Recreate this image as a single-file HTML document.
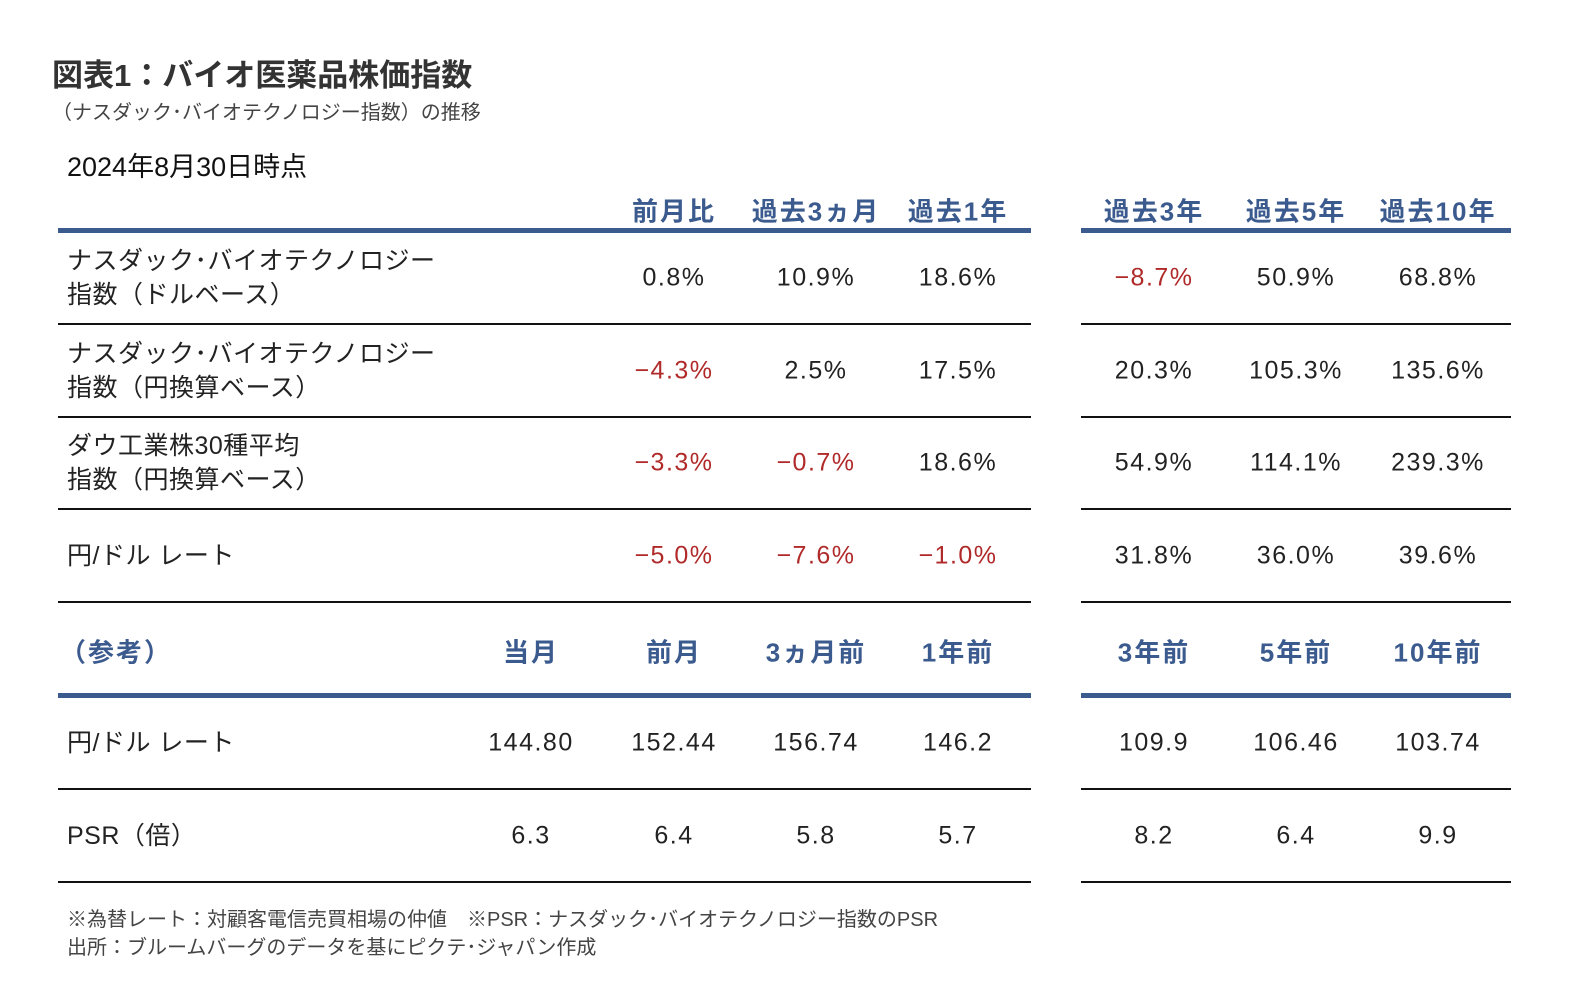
<!DOCTYPE html>
<html><head><meta charset="utf-8">
<style>
body{margin:0;width:1589px;height:991px;background:#fff;position:relative;overflow:hidden;font-family:"Liberation Sans","Noto Sans CJK JP",sans-serif;color:#222}
.a{position:absolute;white-space:nowrap}
.c{transform:translate(-50%,-50%)}
.l{transform:translateY(-50%)}
.hd{font-size:26px;font-weight:bold;color:#3b5a8e;letter-spacing:2px}
.v{font-size:25px;letter-spacing:1.5px;color:#222}
.neg{color:#b02a2a}
.lab{font-size:25px;line-height:34px;letter-spacing:0.5px}
.ln{position:absolute;height:2px;background:#111}
.bl{position:absolute;height:5px;background:#3b5a8e}
</style></head><body>
<div class="a" style="left:52px;top:50px;font-size:31px;font-weight:bold;color:#333">図表1：バイオ医薬品株価指数</div>
<div class="a" style="left:52px;top:96px;font-size:20px;color:#444">（ナスダック･バイオテクノロジー指数）の推移</div>
<div class="a" style="left:67px;top:145px;font-size:27px;color:#111">2024年8月30日時点</div>
<div id="t"></div>
<div class="a" style="left:67px;top:906px;font-size:20px;color:#444;line-height:28px">※為替レート：対顧客電信売買相場の仲値　※PSR：ナスダック･バイオテクノロジー指数のPSR<br>出所：ブルームバーグのデータを基にピクテ･ジャパン作成</div>
<script>
const colX=[531,674,816,958,1154,1296,1438];
const hdr1=["","前月比","過去3ヵ月","過去1年","過去3年","過去5年","過去10年"];
const rowLabels=["ナスダック･バイオテクノロジー<br>指数（ドルベース）","ナスダック･バイオテクノロジー<br>指数（円換算ベース）","ダウ工業株30種平均<br>指数（円換算ベース）","円/ドル レート"];
const rowVals=[["0.8%","10.9%","18.6%","-8.7%","50.9%","68.8%"],["-4.3%","2.5%","17.5%","20.3%","105.3%","135.6%"],["-3.3%","-0.7%","18.6%","54.9%","114.1%","239.3%"],["-5.0%","-7.6%","-1.0%","31.8%","36.0%","39.6%"]];
const hdr2=["当月","前月","3ヵ月前","1年前","3年前","5年前","10年前"];
const refLabels=["円/ドル レート","PSR（倍）"];
const refVals=[["144.80","152.44","156.74","146.2","109.9","106.46","103.74"],["6.3","6.4","5.8","5.7","8.2","6.4","9.9"]];
const t=document.getElementById('t');
function add(cls,html,x,y,name){const d=document.createElement('div');d.className='a '+cls;d.innerHTML=html;d.style.left=x+'px';d.style.top=y+'px';


t.appendChild(d);return d;}
function line(cls,y,name){[[58,1031],[1081,1511]].forEach(([a,b],i)=>{const d=document.createElement('div');d.className=cls;d.style.left=a+'px';d.style.width=(b-a)+'px';d.style.top=y+'px';


t.appendChild(d);});}
hdr1.forEach((h,i)=>{if(h)add('c hd',h,colX[i],210,'header-'+i);});
line('bl',228,'header-rule');
rowLabels.forEach((lb,r)=>{const y=278+r*92.7;
add('l lab',lb,67,y,'row-label-'+r);
rowVals[r].forEach((v,j)=>{const neg=v.startsWith('-');add('c v'+(neg?' neg':''),neg?'−'+v.slice(1):v,colX[j+1],y,'value-'+r+'-'+j);});
line('ln',y+45,'row-rule-'+r);});
add('l hd','（参考）',60,651,'reference-header');
hdr2.forEach((h,i)=>add('c hd',h,colX[i],651,'ref-header-'+i));
line('bl',693,'ref-header-rule');
refLabels.forEach((lb,r)=>{const y=743+r*92.5;
add('l lab',lb,67,y,'ref-label-'+r);
refVals[r].forEach((v,j)=>add('c v',v,colX[j],y,'ref-value-'+r+'-'+j));
line('ln',y+45,'ref-rule-'+r);});
</script>
</body></html>
